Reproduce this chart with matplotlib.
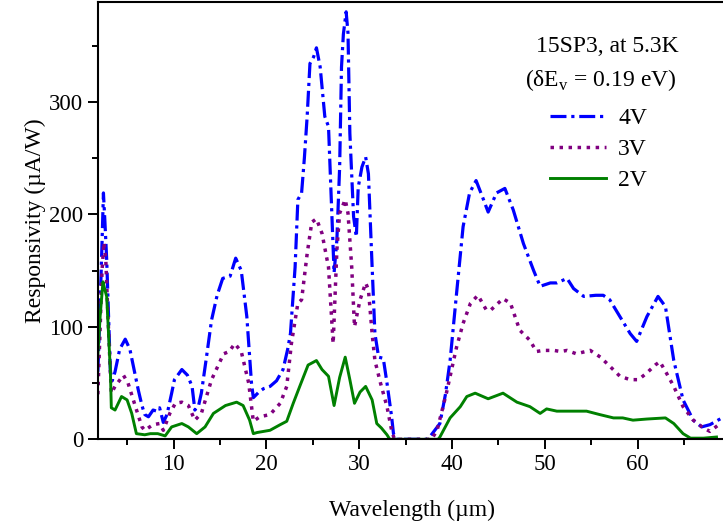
import numpy as np
import matplotlib
matplotlib.use("Agg")
from matplotlib import pyplot as plt

# wavelength (um) / responsivity (uA/W)
x_4v = [1.85, 2.1, 2.3, 2.45, 2.6, 2.8, 3.0, 3.2, 3.4, 3.7, 4.2, 4.8, 5.3, 5.8, 6.2, 6.6,
        6.9, 7.3, 7.8, 8.2, 8.5, 8.9, 9.3, 9.8, 10.1, 10.9, 11.5, 12.0, 12.3, 12.7, 13.0,
        13.5, 14.1, 14.7, 15.3, 16.1, 16.7, 17.3, 17.9, 18.4, 18.6, 19.2, 19.7, 20.4, 21.1,
        21.8, 22.3, 22.6, 23.1, 23.4, 23.8, 24.1, 24.4, 24.7, 25.1, 25.4, 25.8, 26.3, 26.7,
        27.0, 27.3, 27.6, 27.9, 28.1, 28.3, 28.6, 28.8, 29.0, 29.4, 29.7, 29.9, 30.3, 30.7,
        31.0, 31.4, 31.7, 32.1, 32.6, 33.0, 33.5, 33.7, 34.0, 37.3, 37.6, 38.7, 39.3, 39.8,
        40.5, 41.2, 41.9, 42.6, 43.4, 43.9, 44.8, 45.7, 46.6, 47.7, 48.8, 49.5, 50.6, 51.3,
        52.4, 53.1, 54.2, 55.5, 56.3, 57.0, 58.1, 59.2, 59.9, 61.0, 62.2, 63.0, 63.9, 64.9,
        66.0, 66.9, 67.8, 69.1]
y_4v = [60, 120, 175, 219, 195, 160, 110, 60, 52, 60, 80, 89, 80, 60, 44, 30,
        22, 20, 26, 25, 28, 15, 22, 41, 53, 62, 57, 47, 26, 30, 41,
        70, 106, 128, 143, 145, 161, 150, 109, 50, 37, 42, 45, 47, 52,
        62, 80, 94, 153, 213, 219, 250, 287, 334, 340, 348, 331, 287, 278,
        213, 148, 177, 242, 331, 360, 380, 361, 272, 198, 180, 224, 242, 251,
        236, 153, 94, 73, 72, 50, 20, 5, 0, 0, 2, 14, 40, 70,
        130, 189, 219, 230, 213, 202, 219, 223, 204, 174, 150, 136, 139, 139,
        143, 134, 127, 128, 128, 124, 109, 94, 87, 109, 127, 118, 70, 35,
        17, 11, 13, 19]

x_3v = [1.85, 2.1, 2.3, 2.5, 2.7, 3.0, 3.3, 3.7, 4.6, 5.1, 5.9, 6.6, 6.9, 7.8, 8.5, 8.9,
        9.6, 10.2, 10.9, 11.6, 12.3, 13.0, 14.1, 15.4, 16.0, 16.6, 17.3, 18.1, 18.6, 19.3,
        20.4, 21.5, 22.2, 22.7, 23.4, 23.8, 24.4, 24.9, 25.4, 26.0, 26.7, 27.2, 27.6, 27.9,
        28.5, 28.8, 29.2, 29.5, 30.1, 30.7, 31.0, 31.4, 31.7, 32.3, 33.0, 33.5, 33.8, 37.8,
        38.4, 39.4, 40.5, 41.2, 42.0, 42.8, 43.7, 44.2, 45.5, 46.3, 47.3, 48.4, 49.1, 49.8,
        51.0, 51.7, 52.4, 53.4, 54.9, 56.0, 57.0, 58.1, 59.2, 60.1, 61.0, 61.9, 62.4, 63.1,
        63.9, 64.9, 66.0, 67.1, 67.8, 68.9]
y_3v = [40, 100, 150, 175, 160, 97, 41, 47, 57, 50, 29, 11, 8, 13, 14, 8,
        23, 32, 33, 30, 17, 23, 53, 76, 78, 85, 78, 50, 16, 20,
        22, 32, 47, 85, 121, 124, 165, 193, 196, 183, 153, 85, 168, 201,
        213, 201, 153, 100, 124, 139, 133, 94, 70, 50, 29, 8, 0, 0,
        8, 41, 82, 103, 121, 128, 115, 115, 125, 121, 97, 88, 78, 79,
        79, 78, 79, 76, 79, 73, 65, 56, 53, 53, 59, 66, 69, 59,
        47, 29, 17, 10, 7, 14]

x_2v = [1.85, 2.1, 2.4, 2.6, 2.8, 3.0, 3.2, 3.3, 3.7, 4.4, 5.0, 5.5, 6.0, 6.9, 7.5, 8.3,
        9.1, 9.8, 10.9, 11.6, 12.5, 13.4, 14.3, 15.6, 16.8, 17.5, 18.2, 18.6, 19.0, 20.4,
        21.5, 22.2, 22.9, 23.6, 24.5, 25.4, 26.0, 26.7, 27.3, 27.9, 28.5, 29.0, 29.5, 30.1,
        30.7, 31.4, 31.9, 32.4, 33.0, 33.3, 38.5, 38.7, 39.8, 40.9, 41.6, 42.5, 43.9, 45.5,
        47.0, 48.4, 49.5, 50.2, 51.3, 53.4, 54.5, 55.9, 57.4, 58.4, 59.5, 61.0, 63.0, 63.9,
        64.9, 65.7, 67.1, 68.5]
y_2v = [75, 110, 140, 133, 127, 94, 60, 28, 26, 38, 35, 23, 5, 4, 5, 5,
        3, 11, 14, 11, 5, 11, 23, 30, 33, 30, 17, 5, 6, 8,
        13, 16, 32, 47, 66, 70, 62, 56, 30, 55, 73, 53, 32, 42,
        47, 35, 14, 10, 4, 0, 0, 2, 19, 29, 38, 41, 36, 41,
        33, 29, 23, 27, 25, 25, 25, 22, 19, 19, 17, 18, 19, 14,
        5, 1, 1, 2]

plt.rcParams['font.family'] = ['Liberation Serif', 'DejaVu Serif']
plt.rcParams['mathtext.fontset'] = 'custom'
plt.rcParams['mathtext.rm'] = 'Liberation Serif'
plt.rcParams['font.size'] = 16

fig = plt.figure(figsize=(7.23, 5.29), dpi=100)
ax = fig.add_axes([0.1351, 0.1696, 0.87, 0.8272])

ax.plot(x_4v, y_4v, color='#0000ff', lw=2.3, ls=(0, (5, 1.5, 1, 1.5)), label='4V')
ax.plot(x_3v, y_3v, color='#800080', lw=2.5, ls=(0, (1, 1.6)), label='3V')
ax.plot(x_2v, y_2v, color='#008000', lw=2.1, ls='-', label='2V')

ax.set_xlim(1.83, 69.6)
ax.set_ylim(0, 389)
ax.set_xticks([10, 20, 30, 40, 50, 60])
ax.set_xticks(np.arange(5, 70, 10), minor=True)
ax.set_yticks([0, 100, 200, 300])
ax.set_yticks([50, 150, 250, 350], minor=True)
ax.tick_params(which='major', direction='out', length=7, width=1.4, labelsize=16.5)
ax.tick_params(which='minor', direction='out', length=4, width=1.4)
for s in ['left', 'bottom', 'top']:
    ax.spines[s].set_linewidth(1.5)
ax.spines['right'].set_visible(False)

ax.set_xlabel('Wavelength (\u00b5m)', fontsize=17, labelpad=18)
ax.set_ylabel('Responsivity (\u00b5A/W)', fontsize=17, labelpad=2)

ax.text(0.81, 0.897, '15SP3, at 5.3K', transform=ax.transAxes, ha='center', va='center', fontsize=17)
ax.text(0.80, 0.822, '(\u03b4E$_\\mathrm{v}$ = 0.19 eV)', transform=ax.transAxes,
        ha='center', va='center', fontsize=17)

ax.legend(loc='upper left', bbox_to_anchor=(0.70, 0.785), frameon=False, fontsize=17,
          handlelength=2.4, handletextpad=0.5, labelspacing=0.4, borderpad=0)

fig.savefig('out.png', dpi=100)
